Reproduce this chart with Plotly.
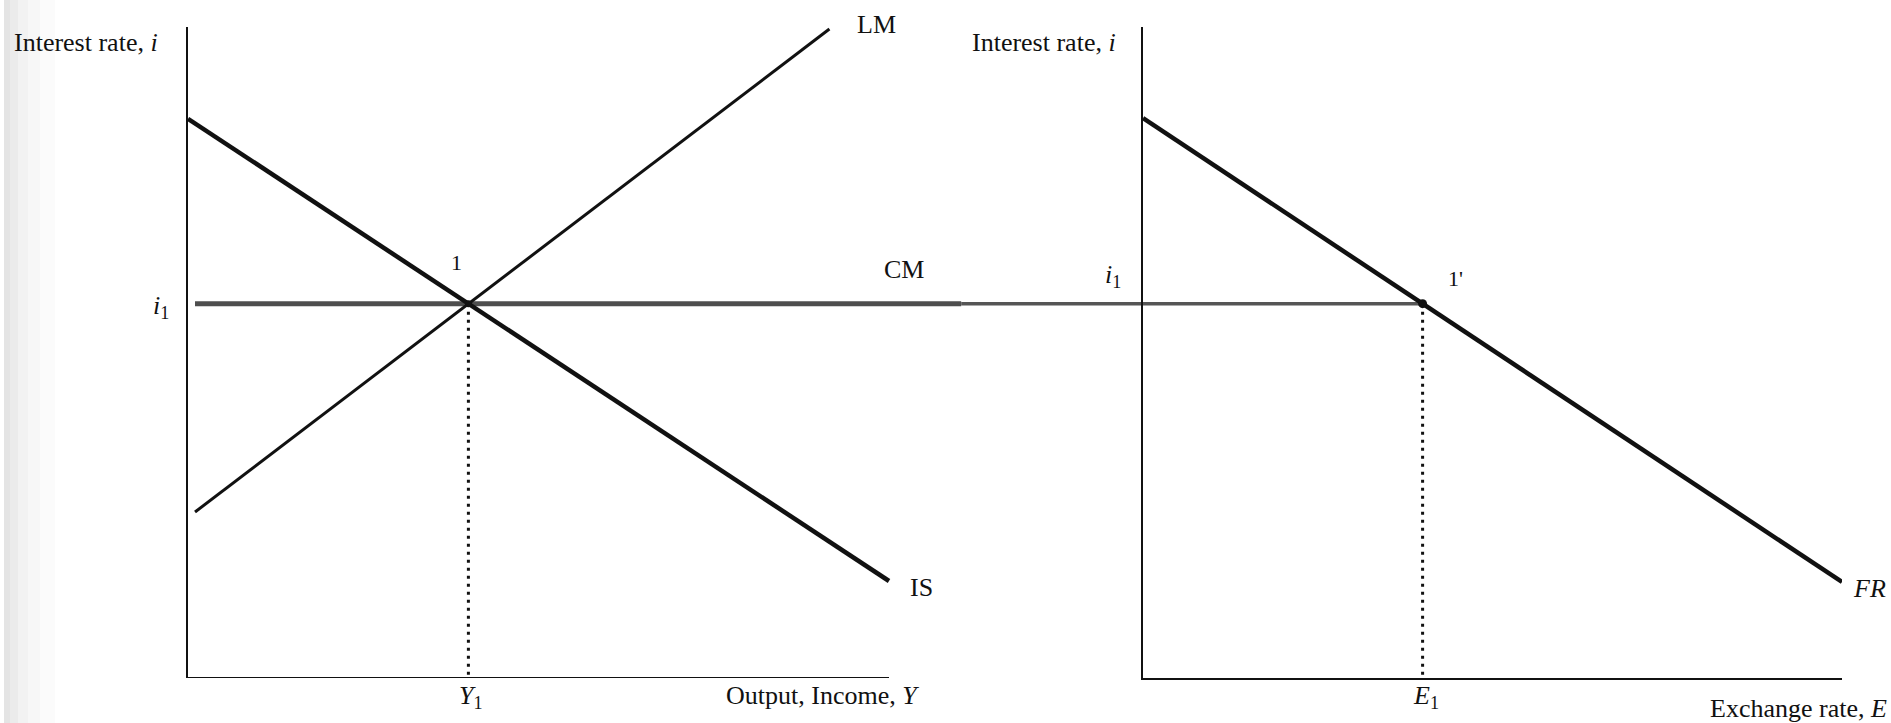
import plotly.graph_objects as go

# ---------------- data (economic units) ----------------
Y1 = 4.0          # equilibrium output
E1 = 4.0          # equilibrium exchange rate
i1 = 5.75         # equilibrium interest rate

IS_Y = [0.0, 10.0]
IS_i = [8.59, 1.49]

LM_Y = [0.1, 9.15]
LM_i = [2.55, 9.97]

CM_Y = [0.1, 11.03]          # thick grey part of CM line (left diagram)
CM_link_Y = [11.03, 13.62]   # thinner continuation towards the right diagram
CM_E = [0.0, E1]             # continuation inside right diagram

FR_E = [0.0, 10.0]
FR_i = [8.6, 1.475]

Y_AXIS_END = 10.0
E_AXIS_END = 10.0
I_AXIS_END = 10.0

W, H = 1891, 723
FONT = "Liberation Serif, Times New Roman, serif"


def px(x, y):
    """convert pixel position to paper coordinates"""
    return x / W, 1 - y / H


fig = go.Figure()

ink = "#111111"
grey = "#4e4e4e"

# left diagram
fig.add_trace(go.Scatter(x=CM_Y, y=[i1, i1], mode="lines",
                         line=dict(color=grey, width=5), xaxis="x", yaxis="y"))
fig.add_trace(go.Scatter(x=CM_link_Y, y=[i1, i1], mode="lines",
                         line=dict(color="#555555", width=3.5), xaxis="x", yaxis="y"))
fig.add_trace(go.Scatter(x=IS_Y, y=IS_i, mode="lines",
                         line=dict(color=ink, width=4.5), xaxis="x", yaxis="y"))
fig.add_trace(go.Scatter(x=LM_Y, y=LM_i, mode="lines",
                         line=dict(color=ink, width=3), xaxis="x", yaxis="y"))
fig.add_trace(go.Scatter(x=[Y1, Y1], y=[i1, 0], mode="lines",
                         line=dict(color=ink, width=3, dash="3px,5px"), xaxis="x", yaxis="y"))
fig.add_trace(go.Scatter(x=[Y1], y=[i1], mode="markers",
                         marker=dict(color=ink, size=7), xaxis="x", yaxis="y"))
# left x axis baseline
fig.add_trace(go.Scatter(x=[0, Y_AXIS_END], y=[0, 0], mode="lines",
                         line=dict(color=ink, width=2), xaxis="x", yaxis="y"))

# right diagram
fig.add_trace(go.Scatter(x=CM_E, y=[i1, i1], mode="lines",
                         line=dict(color="#555555", width=3.5), xaxis="x2", yaxis="y"))
fig.add_trace(go.Scatter(x=FR_E, y=FR_i, mode="lines",
                         line=dict(color=ink, width=4.5), xaxis="x2", yaxis="y"))
fig.add_trace(go.Scatter(x=[E1, E1], y=[i1, 0], mode="lines",
                         line=dict(color=ink, width=3, dash="3px,5px"), xaxis="x2", yaxis="y"))
fig.add_trace(go.Scatter(x=[E1], y=[i1], mode="markers",
                         marker=dict(color=ink, size=9), xaxis="x2", yaxis="y"))
# dummy trace so the right vertical axis is drawn
fig.add_trace(go.Scatter(x=[0], y=[0], mode="markers", marker=dict(opacity=0),
                         xaxis="x2", yaxis="y2", hoverinfo="skip"))

# axis domains (pixels -> paper)
left_x0, left_x1 = 188, 1143
right_x0, right_x1 = 1143, 1842
y_top, y_bot = 27, 678

fig.update_layout(
    width=W, height=H,
    margin=dict(l=0, r=0, t=0, b=0),
    paper_bgcolor="white", plot_bgcolor="rgba(0,0,0,0)",
    showlegend=False,
    xaxis=dict(domain=[left_x0 / W, left_x1 / W],
               range=[0, Y_AXIS_END * (left_x1 - left_x0) / (889 - left_x0)],
               showgrid=False, zeroline=False, showticklabels=False,
               showline=False, ticks="", fixedrange=True),
    xaxis2=dict(domain=[right_x0 / W, right_x1 / W], range=[0, E_AXIS_END],
                anchor="y", showgrid=False, zeroline=False, showticklabels=False,
                showline=True, linecolor=ink, linewidth=2, ticks="", fixedrange=True),
    yaxis=dict(domain=[1 - y_bot / H, 1 - y_top / H], range=[0, I_AXIS_END],
               showgrid=False, zeroline=False, showticklabels=False,
               showline=True, linecolor=ink, linewidth=2, ticks="", fixedrange=True),
    yaxis2=dict(domain=[1 - y_bot / H, 1 - y_top / H], range=[0, I_AXIS_END],
                overlaying="y", anchor="x2", side="left",
                showgrid=False, zeroline=False, showticklabels=False,
                showline=True, linecolor=ink, linewidth=2, ticks="", fixedrange=True),
    font=dict(family=FONT, size=26, color=ink),
)

# soft grey shadow on the left edge
shades = [(4, 10, 0.16), (10, 18, 0.12), (18, 28, 0.08), (28, 40, 0.05), (40, 55, 0.025)]
for a, b, op in shades:
    fig.add_shape(type="rect", xref="paper", yref="paper",
                  x0=a / W, x1=b / W, y0=0, y1=1,
                  fillcolor=f"rgba(90,90,90,{op})", line=dict(width=0), layer="below")


def label(text, x, y, xanchor="center", size=26):
    xp, yp = px(x, y)
    fig.add_annotation(text=text, x=xp, y=yp, xref="paper", yref="paper",
                       xanchor=xanchor, yanchor="middle", showarrow=False,
                       font=dict(size=size, family=FONT, color=ink))


label("Interest rate, <i>i</i>", 12, 42, "left")
label("Interest rate, <i>i</i>", 970, 42, "left")
label("LM", 876, 25)
label("CM", 904, 269)
label("1", 456, 262, size=22)
label("1'", 1455, 278, size=22)
label("<i>i</i><sub>1</sub>", 161, 307)
label("<i>i</i><sub>1</sub>", 1113, 276)
label("IS", 921, 587)
label("<i>FR</i>", 1869, 588)
label("<i>Y</i><sub>1</sub>", 471, 697)
label("<i>E</i><sub>1</sub>", 1426, 697)
label("Output, Income, <i>Y</i>", 921, 695, "right")
label("Exchange rate, <i>E</i>", 1889, 708, "right")

fig.write_html(
    "out.html",
    config={"displayModeBar": False},
    post_script="document.body.style.margin='0px';document.body.style.overflow='hidden';",
)
